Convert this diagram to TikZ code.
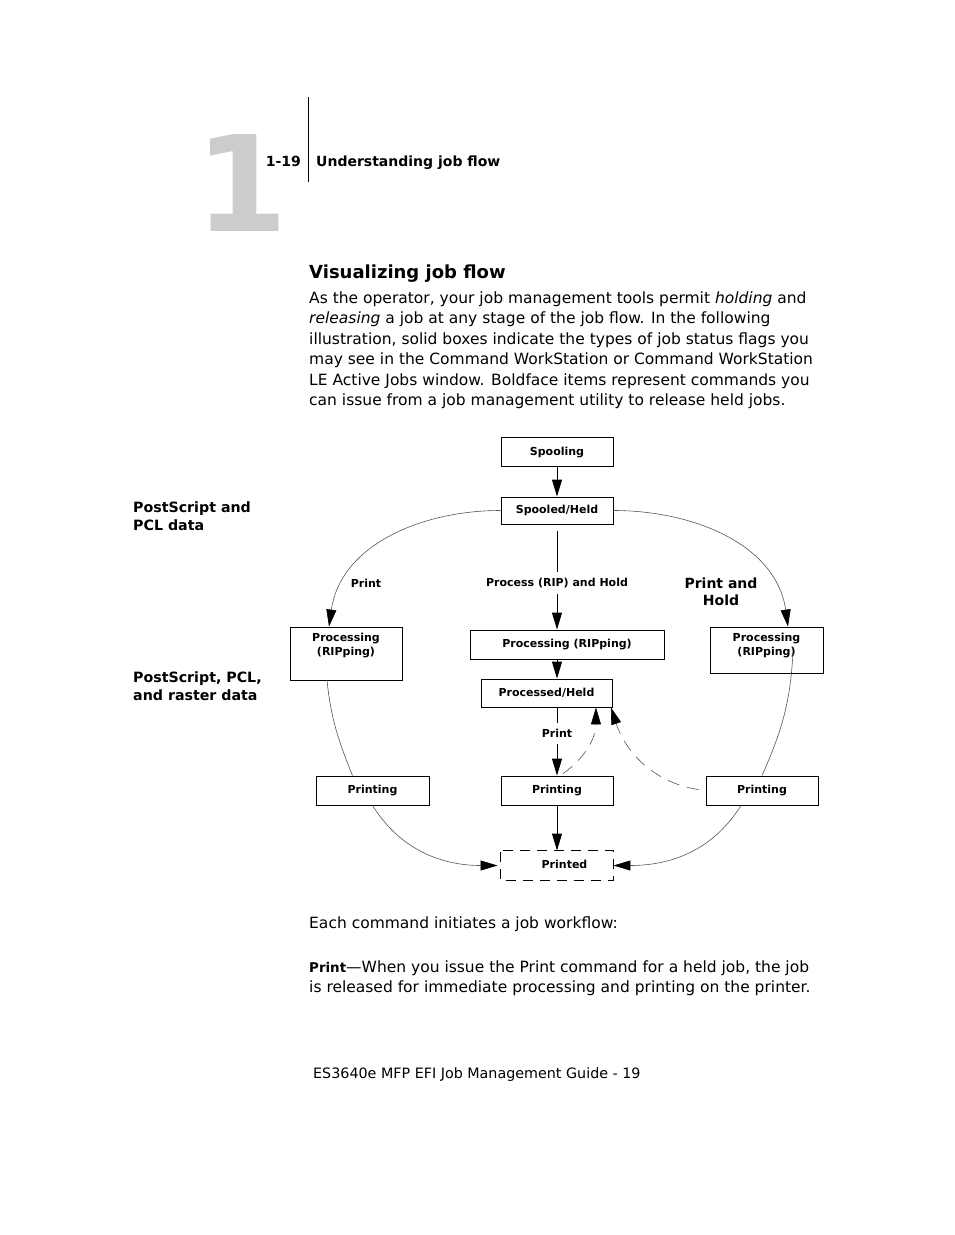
\documentclass[tikz,border=0pt]{standalone}
\usepackage{fontspec}
\setmainfont{DejaVu Sans}
\usepackage{xcolor}
\usepackage{tikz}
\usetikzlibrary{arrows.meta,positioning,calc}
\definecolor{chapgrey}{HTML}{CCCCCC}
\definecolor{linkgrey}{HTML}{555555}

\newcommand\bodysize{\fontsize{15.5}{20.4}\selectfont}
\newcommand\flagsize{\fontsize{11}{14}\selectfont\bfseries}
\newcommand\sidesize{\fontsize{14.2}{18}\selectfont\bfseries}

\begin{document}
\begin{tikzpicture}[x=1pt, y=1pt,
  flag/.style={draw, line width=0.9pt, inner sep=0pt, minimum width=112pt, minimum height=29pt, font=\flagsize},
  flagtext/.style={font=\flagsize, inner sep=0pt, align=center},
  body/.style={font=\bodysize, inner sep=0pt, anchor=base west, align=left},
  side/.style={font=\sidesize, inner sep=0pt, align=left},
  push/.style={line width=0.9pt, -{Triangle[length=17pt,width=10pt]}},
  route/.style={linkgrey, line width=0.6pt, -{Triangle[length=17pt,width=10pt,color=black]}},
  release/.style={route, dash pattern=on 12pt off 8pt},
  cmd/.style={font=\flagsize, fill=white, inner xsep=1pt, inner ysep=6pt}]
\useasboundingbox (0,0) rectangle (954,-1235);

% ---- page head ----
\node[chapgrey, font=\fontsize{133}{133}\selectfont\bfseries, inner sep=0pt, anchor=base west] (chapno) at (195,-231) {1};
\draw[line width=0.9pt] (308,-97) -- (308,-182);
\node[font=\fontsize{14}{16}\selectfont\bfseries, inner sep=0pt, anchor=base east] (secno) at (301,-166) {1-19};
\node[font=\fontsize{14}{16}\selectfont\bfseries, inner sep=0pt, anchor=base west] (sectitle) at (316,-166) {Understanding job flow};

% ---- intro (base anchor sits on the last line) ----
\node[font=\fontsize{18}{20}\selectfont\bfseries, inner sep=0pt, anchor=base west] (heading) at (309,-278) {Visualizing job flow};
\node[body] (intro) at (309,-405.5) {As the operator, your job management tools permit \emph{holding} and\\
  \emph{releasing} a job at any stage of the job flow. In the following\\
  illustration, solid boxes indicate the types of job status flags you\\
  may see in the Command WorkStation or Command WorkStation\\
  LE Active Jobs window. Boldface items represent commands you\\
  can issue from a job management utility to release held jobs.};

% ---- data labels in the left margin ----
\node[side, anchor=base west] (psdata) at (133,-530) {PostScript and\\PCL data};
\node[side, anchor=base west] (rasterdata) at (133,-700) {PostScript, PCL,\\and raster data};

% ---- status boxes ----
\node[flag] (spooling) at (557,-452) {Spooling};
\node[flag, minimum height=27pt] (spooled) at (557,-510.5) {Spooled/Held};
\node[flag, minimum height=53pt] (procL) at (346,-653.5) {};
\node[flagtext, anchor=north] (procLtxt) at ([yshift=-6.5pt]procL.north) {Processing\\(RIPping)};
\node[flag, minimum width=194pt] (procM) at (567,-644.5) {Processing (RIPping)};
\node[flag, minimum width=113pt, minimum height=46pt] (procR) at (766.5,-650) {};
\node[flagtext, anchor=north] (procRtxt) at ([yshift=-6.5pt]procR.north) {Processing\\(RIPping)};
\node[flag, minimum width=131pt, minimum height=28pt] (processed) at (546.5,-693) {Processed/Held};
\node[flag, minimum width=113pt] (printL) at (372.5,-790.5) {Printing};
\node[flag] (printM) at (557,-790.5) {Printing};
\node[flag] (printR) at (762,-790.5) {Printing};
\node[flag, draw=none, minimum height=29pt] (printed) at (557,-865.5) {};
\draw[line width=0.9pt, dash pattern=on 10pt off 7pt, dash phase=-1pt] (printed.north west) rectangle (printed.south east);
\node[flagtext] (printedtxt) at ([xshift=7.5pt,yshift=1.5pt]printed.center) {Printed};

% ---- commands ----
\node[flagtext] (printcmdL) at (366,-583) {Print};
\node[side, align=center, font=\fontsize{14}{17}\selectfont\bfseries] (printhold) at (721,-591.5) {Print and\\Hold};

% ---- centre column ----
\draw[push] (spooling) -- (spooled);
\draw[push, shorten <=7pt] (spooled.south) -- node[cmd, pos=0.56] (riphold) {Process (RIP) and Hold} (spooled.south |- procM.north);
\draw[push] (spooled.south |- procM.south) -- (spooled.south |- processed.north);
\draw[push] (spooled.south |- processed.south) -- node[cmd, pos=0.38] (printcmdM) {Print} (printM.north);
\draw[push] (printM) -- (printed);

% ---- left and right routes ----
\draw[route] (spooled.west) to[out=180, in=82] ([xshift=-17pt]procL.north);
\draw[route] (spooled.east) to[out=0, in=98] ([xshift=21.5pt]procR.north);
\draw[linkgrey, line width=0.6pt] ([xshift=-19pt]procL.south) to[out=-84, in=112] ([xshift=-20pt]printL.north);
\draw[route, shorten >=3pt] (printL.south) to[out=-58, in=180] (printed.west);
\draw[linkgrey, line width=0.6pt] ([xshift=26.5pt,yshift=-2pt]procR.center) to[out=-93, in=66] (printR.north);
\draw[route] ([xshift=-21pt]printR.south) to[out=-122, in=0] (printed.east);

% ---- release back to held ----
\draw[release] ([xshift=6pt,yshift=2pt]printM.north) to[out=35, in=-90] ([xshift=-16.5pt]processed.south east);
\draw[release, shorten <=7pt] (printR.west) to[out=172, in=-72] ([xshift=-1.5pt]processed.south east);

% ---- closing text ----
\node[body] (cmdintro) at (309,-928.5) {Each command initiates a job workflow:};
\node[body] (printnote) at (309,-992.5) {{\fontsize{13.4}{16}\selectfont\bfseries Print}---When you issue the Print command for a held job, the job\\
  is released for immediate processing and printing on the printer.};
\node[font=\fontsize{14.3}{16}\selectfont, inner sep=0pt, anchor=base west] (footer) at (313,-1078) {ES3640e MFP EFI Job Management Guide - 19};
\end{tikzpicture}
\end{document}
